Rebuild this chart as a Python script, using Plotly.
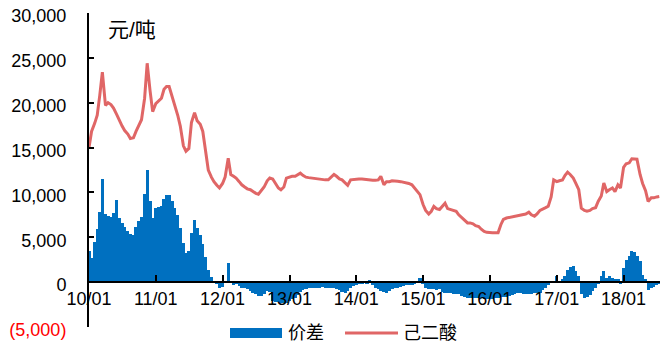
import pandas as pd
import plotly.graph_objects as go

# semi-monthly observation dates (1st and 15th), 2010-01 .. 2018-07
dates = pd.date_range("2010-01-01", periods=206, freq="SMS")

# 己二酸 price (元/吨)
price = [
    15000, 16800, 17700, 18600, 20850, 23400, 19700, 20000, 19800, 19400,
    18700, 18000, 17400, 16900, 16500, 16000, 16100, 16800, 17500, 18100,
    20500, 24400, 21300, 19000, 19900, 20200, 20500, 21500, 21800, 21800,
    20700, 19800, 18600, 17400, 15200, 14600, 14900, 17800, 18900, 18000,
    17600, 16800, 14500, 12500, 11700, 11200, 10800, 10500, 11000, 11700,
    13800, 12000, 11800, 11600, 11200, 10850, 10600, 10400, 10300, 10100,
    9900, 9800, 10200, 10600, 11300, 11600, 11500, 11100, 10500, 10300,
    10600, 11600, 11700, 11800, 11800, 12000, 12150, 11900, 11700, 11650,
    11600, 11550, 11500, 11450, 11400, 11400, 11400, 11700, 12000, 11800,
    11500, 11400, 11100, 10800, 11400, 11450, 11500, 11500, 11500, 11450,
    11400, 11350, 11350, 11350, 11400, 11800, 10850, 11200, 11200, 11300,
    11300, 11250, 11200, 11150, 11100, 11000, 10850, 10500, 10100, 9750,
    8650, 8000, 7600, 7900, 8450, 8200, 8100, 8400, 8800, 8200,
    8100, 8000, 7900, 7500, 7150, 6900, 6600, 6600, 6500, 6300,
    6200, 5900, 5650, 5550, 5500, 5500, 5500, 5500, 6400, 7000,
    7150, 7200, 7300, 7350, 7400, 7450, 7500, 7600, 7800, 7500,
    7350, 7600, 8000, 8100, 8300, 8450, 9500, 11400, 11200, 11300,
    11400, 11900, 12250, 12000, 11600, 11000, 10300, 8250, 8000, 7900,
    8000, 8200, 8300, 9000, 9600, 11050, 10100, 10300, 10500, 10100,
    10850, 10500, 12800, 13200, 13300, 13750, 13750, 13700, 12000, 11000,
    10200, 9000, 9400, 9400, 9500, 9550,
]

# 价差 spread (元/吨)
spread = [
    3500, 2700, 4500, 5900, 7800, 11500, 7600, 7400, 7300, 7700,
    9200, 7200, 6600, 6100, 5700, 5400, 5300, 6200, 6800, 7300,
    9800, 12500, 9000, 7200, 8300, 8400, 8500, 9300, 9750, 9700,
    9000, 8300, 7500, 6000, 4400, 3200, 3500, 5500, 6950, 6000,
    5300, 4300, 2800, 1300, 600, 100, -250, -700, -500, 100,
    2150, 0, -300, -250, -400, -600, -700, -800, -1000, -1200,
    -1350, -1550, -1550, -1300, -1000, -1100, -2100, -2200, -2250, -2300,
    -2300, -2300, -2100, -1900, -1750, -1400, -1100, -900, -800, -700,
    -650, -600, -600, -600, -550, -600, -600, -600, -700, -800,
    -900, -1100, -1200, -1000, -700, -450, -300, -200, -100, 0,
    -100, 200, -300, -600, -800, -1000, -1100, -1200, -1000, -800,
    -700, -600, -500, -400, -350, -300, -300, -200, 100, 500,
    -200, -600, -800, -800, -800, -900, -800, -1100, -1200, -1200,
    -1250, -1300, -1350, -1350, -1500, -1650, -1750, -1750, -1750, -1750,
    -1750, -1800, -1850, -1900, -1900, -1850, -1800, -1750, -1700, -1650,
    -1600, -1550, -1400, -1300, -1200, -1250, -1300, -1350, -1350, -1300,
    -1250, -1200, -1200, -900, -600, -300, 0, 100, 650, 0,
    300, 650, 1300, 1700, 1800, 1200, 650, -1350, -1750, -1600,
    -1400, -1000, -600, -250, 700, 1200, 500, 650, 450, 300,
    300, -200, 1600, 2500, 2900, 3450, 3350, 2900, 2400, 750,
    300, -900, -700, -500, -300, -200,
]

x_tick_vals = ["2010-01-01", "2011-01-01", "2012-01-01", "2013-01-01", "2014-01-01",
               "2015-01-01", "2016-01-01", "2017-01-01", "2018-01-01"]
x_tick_text = ["10/01", "11/01", "12/01", "13/01", "14/01", "15/01", "16/01", "17/01", "18/01"]
y_tick_vals = [-5000, 0, 5000, 10000, 15000, 20000, 25000, 30000]
y_tick_text = ['<span style="color:#FF0000">(5,000)</span>', "0", "5,000", "10,000",
               "15,000", "20,000", "25,000", "30,000"]

BLUE = "#0070C0"
RED = "#E06666"
FONT = "Liberation Sans, Arial, Noto Sans CJK SC"

fig = go.Figure()
fig.add_trace(go.Bar(x=dates, y=spread, name="价差", marker=dict(color=BLUE, line=dict(width=0)),
                     width=17.5 * 86400000, showlegend=False))
fig.add_trace(go.Scatter(x=dates, y=price, name="己二酸", mode="lines",
                         line=dict(color=RED, width=3), showlegend=False))

fig.update_layout(
    width=660, height=347,
    margin=dict(l=89, r=0, t=13, b=20, autoexpand=False),
    paper_bgcolor="white", plot_bgcolor="white",
    font=dict(family=FONT, size=18, color="#000000"),
    bargap=0,
    xaxis=dict(
        type="date", range=["2010-01-01", "2018-07-19"],
        tickvals=x_tick_vals, ticktext=x_tick_text,
        anchor="free", position=1 / 7, automargin=False,
        showline=True, linecolor="black", linewidth=2,
        ticks="inside", ticklen=6, tickwidth=2, tickcolor="black",
        showgrid=False, zeroline=False, ticklabeloverflow="allow",
        tickfont=dict(size=18),
    ),
    yaxis=dict(
        range=[-5000, 30000], automargin=False,
        tickvals=y_tick_vals, ticktext=y_tick_text,
        showline=True, linecolor="black", linewidth=2,
        ticks="inside", ticklen=5, tickwidth=2, tickcolor="black",
        showgrid=False, zeroline=False, ticklabeloverflow="allow",
        ticklabelstandoff=17, ticklabelshift=3,
        tickfont=dict(size=18),
    ),
)

# unit label
fig.add_annotation(text="元/吨", xref="paper", yref="paper", x=0.03, y=0.946,
                   xanchor="left", yanchor="middle", showarrow=False,
                   font=dict(size=21, family=FONT))

# custom legend
fig.add_shape(type="rect", xref="paper", yref="paper",
              x0=(230 - 89) / 571, x1=(282 - 89) / 571,
              y0=(327 - 328) / 314, y1=(327 - 338) / 314,
              fillcolor=BLUE, line=dict(width=0))
fig.add_annotation(text="价差", xref="paper", yref="paper", x=(286 - 89) / 571,
                   y=(327 - 333) / 314, xanchor="left", yanchor="middle",
                   showarrow=False, font=dict(size=18, family=FONT))
fig.add_shape(type="line", xref="paper", yref="paper",
              x0=(345 - 89) / 571, x1=(398 - 89) / 571,
              y0=(327 - 333) / 314, y1=(327 - 333) / 314,
              line=dict(color=RED, width=3))
fig.add_annotation(text="己二酸", xref="paper", yref="paper", x=(401 - 89) / 571,
                   y=(327 - 333) / 314, xanchor="left", yanchor="middle",
                   showarrow=False, font=dict(size=18, family=FONT))

# remove the browser's default body margin so the figure fills the window exactly
fig.write_html("out.html", config={"displayModeBar": False},
               post_script="document.body.style.margin='0';")
